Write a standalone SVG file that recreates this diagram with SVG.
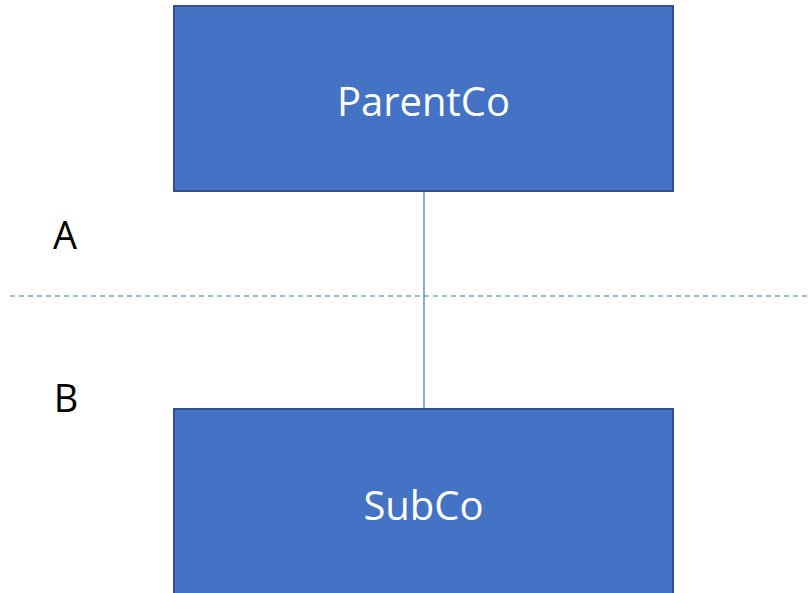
<svg xmlns="http://www.w3.org/2000/svg" width="810" height="593" viewBox="0 0 810 593">
<style>
.box{fill:#4472C4;stroke:#2F528F;stroke-width:2}
.lbl{fill:#FFFFFF;font-family:"Open Sans","Noto Sans",sans-serif;font-size:40px;text-anchor:middle}
.side{fill:#000000;font-family:"Open Sans","Noto Sans",sans-serif;font-size:38px;text-anchor:middle}
.conn{stroke:#4472C4;stroke-width:1.2;fill:none}
</style>
<rect width="810" height="593" fill="#FFFFFF"/>
<g id="connectors">
<line class="conn" x1="10" y1="296" x2="810" y2="296" stroke-dasharray="5,4"/>
<line class="conn" x1="424" y1="191" x2="424" y2="409"/>
</g>
<g id="parentco">
<rect class="box" x="174" y="6" width="499" height="185"/>
<text class="lbl" x="423.5" y="116">ParentCo</text>
</g>
<g id="subco">
<rect class="box" x="174" y="409" width="499" height="200"/>
<text class="lbl" x="423.5" y="520">SubCo</text>
</g>
<g id="label-a">
<text class="side" x="65" y="249">A</text>
</g>
<g id="label-b">
<text class="side" x="66" y="412">B</text>
</g>
</svg>
